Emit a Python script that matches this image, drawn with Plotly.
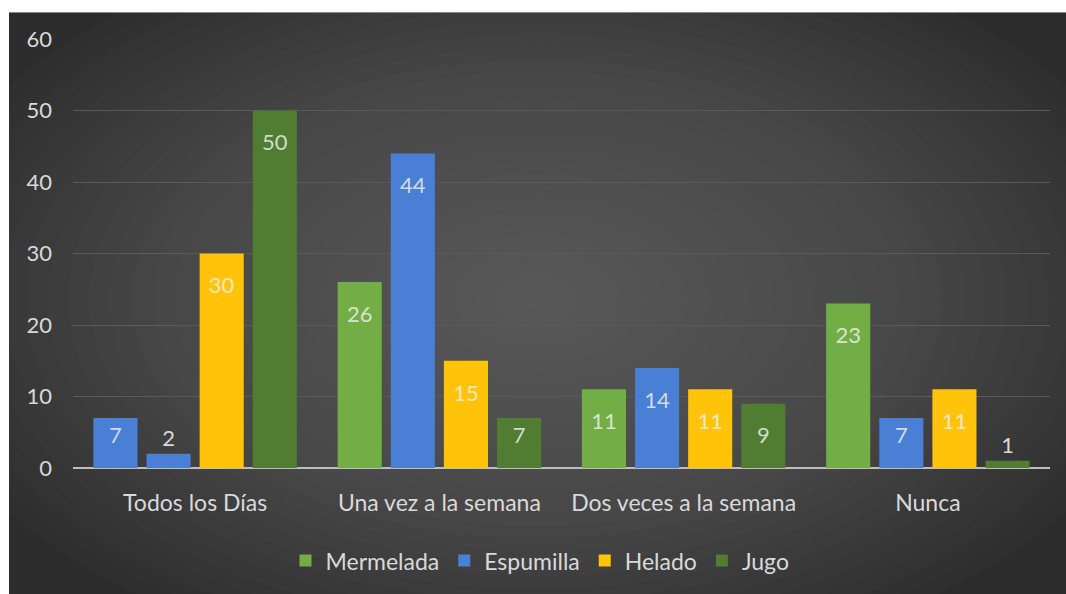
import plotly.graph_objects as go

categories = ["Todos los Días", "Una vez a la semana", "Dos veces a la semana", "Nunca"]
series_names = ["Mermelada", "Espumilla", "Helado", "Jugo"]
mermelada = [7, 26, 11, 23]
espumilla = [2, 44, 14, 7]
helado = [30, 15, 11, 11]
jugo = [50, 7, 9, 1]
y_ticks = [0, 10, 20, 30, 40, 50, 60]

W, H = 1066, 594
L, R, T, B = 73, 16, 39, 124
PW, PH = W - L - R, H - T - B

def px_x(p):
    return (p - L) / PW

def px_y(p):
    return (H - B - p) / PH

GREEN = "#72ae45"
BLUE = "#4a7fd6"
YELLOW = "#ffc30a"
DKGREEN = "#507d32"
TXT = "#d9d9d9"
FONT = "Lato"
FS_LBL = 22
FS_AX = 23

colors = {
    "Mermelada": [BLUE, GREEN, GREEN, GREEN],
    "Espumilla": BLUE,
    "Helado": YELLOW,
    "Jugo": DKGREEN,
}
legend_colors = {"Mermelada": GREEN, "Espumilla": BLUE, "Helado": YELLOW, "Jugo": DKGREEN}
values = {"Mermelada": mermelada, "Espumilla": espumilla, "Helado": helado, "Jugo": jugo}

# label template: a small spacer line pushes tall-bar labels a bit lower (Excel "inside end" look)
TPL_LOW = "\u00a0<br><span style='font-size:%dpx'>%%{text}</span>" % FS_LBL
TPL_TOP = "<span style='font-size:%dpx'>%%{text}</span>" % FS_LBL

fig = go.Figure()
for name in series_names:
    vals = values[name]
    fig.add_trace(go.Bar(
        name=name,
        x=categories,
        y=vals,
        marker=dict(color=colors[name], line=dict(width=0)),
        text=[str(v) for v in vals],
        texttemplate=[TPL_LOW if v >= 9 else TPL_TOP for v in vals],
        textposition=["outside" if v < 3 else "inside" for v in vals],
        insidetextanchor="end",
        textangle=0,
        cliponaxis=False,
        textfont=dict(family=FONT, size=16, color="rgba(240,240,240,0.82)"),
        outsidetextfont=dict(family=FONT, size=16, color=TXT),
        showlegend=False,
    ))
# legend entries (square markers)
for name in series_names:
    fig.add_trace(go.Scatter(
        x=[None], y=[None], mode="markers", name=name,
        marker=dict(symbol="square", size=13, color=legend_colors[name]),
        showlegend=True,
    ))

shapes = []
shapes.append(dict(type="rect", xref="paper", yref="paper", layer="below",
                   x0=px_x(9), x1=px_x(W + 5), y0=px_y(H + 5), y1=px_y(12),
                   fillcolor="#2c2c2c", line=dict(width=0)))
cx, cy = 537, 300
N = 30
for i in range(N):
    f = 1 - i / N
    rx, ry = 640 * f, 380 * f
    shapes.append(dict(type="circle", xref="paper", yref="paper", layer="below",
                       x0=px_x(cx - rx), x1=px_x(cx + rx),
                       y0=px_y(cy + ry), y1=px_y(cy - ry),
                       fillcolor="#6c6c6c", opacity=0.042, line=dict(width=0)))
shapes.append(dict(type="rect", xref="paper", yref="paper", layer="below",
                   x0=px_x(-50), x1=px_x(W + 50), y0=px_y(12), y1=px_y(-50),
                   fillcolor="white", line=dict(width=0)))
shapes.append(dict(type="rect", xref="paper", yref="paper", layer="below",
                   x0=px_x(-50), x1=px_x(9), y0=px_y(H + 50), y1=px_y(-50),
                   fillcolor="white", line=dict(width=0)))

fig.update_layout(
    width=W, height=H,
    margin=dict(l=L, r=R, t=T, b=B, pad=0),
    paper_bgcolor="white",
    plot_bgcolor="rgba(0,0,0,0)",
    barmode="group",
    bargap=0.13,
    bargroupgap=0.17,
    shapes=shapes,
    font=dict(family=FONT, color=TXT, size=FS_AX),
    legend=dict(orientation="h", x=0.478, xanchor="center", y=px_y(563), yanchor="middle",
                font=dict(family=FONT, size=FS_AX, color=TXT), itemsizing="constant",
                itemwidth=30, tracegroupgap=0, bgcolor="rgba(0,0,0,0)"),
    xaxis=dict(showgrid=False, showline=False, ticks="", zeroline=False,
               tickfont=dict(family=FONT, size=FS_AX, color=TXT), ticklabelstandoff=19),
    yaxis=dict(range=[0, 60], tickvals=y_ticks, showgrid=True, gridcolor="#5a5a5a",
               gridwidth=1, zeroline=True, zerolinecolor="#bdbdbd", zerolinewidth=2,
               showline=False, ticks="", tickfont=dict(family=FONT, size=22, color=TXT),
               ticklabelstandoff=20),
)

fig.write_html("out.html", config={"displayModeBar": False},
               post_script="document.body.style.margin='0';document.body.style.overflow='hidden';")
